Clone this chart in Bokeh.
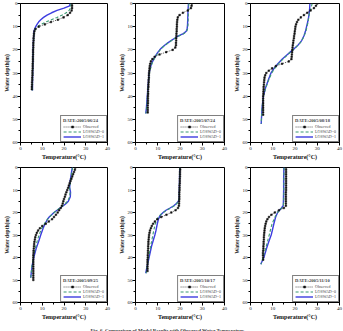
from bokeh.plotting import figure
from bokeh.layouts import column, row
from bokeh.models import Range1d, Legend, LegendItem, FixedTicker
from bokeh.embed import file_html
from bokeh.resources import INLINE
from bokeh.core.properties import value

FONT = "Liberation Serif"
OBS_COLOR = "#111111"
LOS0_COLOR = "#3a9a72"
LOS1_COLOR = "#3d3de0"

series_names = ["Observed", "LOSWAD=0", "LOSWAD=1"]
temp_ticks = [0, 10, 20, 30, 40]
temp_minor = [5, 15, 25, 35]
depth_ticks = [0, 10, 20, 30, 40, 50, 60]
depth_minor = [5, 15, 25, 35, 45, 55]

# ---- 2005/06/24 ----
date_0624 = "DATE:2005/06/24"
obs_depth_0624 = [0, 1, 2, 3, 4, 5, 6, 7, 8, 9, 10, 11, 12, 13, 14, 15, 16, 17, 18,
                  19, 20, 21, 22, 23, 24, 25, 26, 27, 28, 29, 30, 31, 32, 33, 34, 35, 36, 37]
obs_temp_0624 = [23.7, 23.7, 23.7, 23.5, 22.8, 21.7, 19.8, 17.2, 14.0, 11.2, 8.4, 6.9, 6.4,
                 6.2, 6.1, 6.0, 6.0, 5.9, 5.9, 5.9, 5.8, 5.8, 5.8, 5.7, 5.7, 5.7, 5.6, 5.6,
                 5.6, 5.5, 5.5, 5.5, 5.4, 5.4, 5.3, 5.3, 5.2, 5.2]
m0_depth_0624 = [0, 2, 3, 4, 5, 6, 7, 8, 9, 10, 11, 12, 15, 20, 25, 30, 35, 37.5]
m0_temp_0624 = [23.2, 23.0, 22.3, 21.0, 19.2, 16.8, 14.2, 11.6, 9.4, 7.8, 6.8, 6.4, 6.1,
                5.9, 5.7, 5.6, 5.5, 5.4]
m1_depth_0624 = [0, 1, 2, 3, 4, 5, 6, 7, 8, 9, 10, 11, 12, 15, 20, 25, 30, 35, 37.5]
m1_temp_0624 = [22.8, 22.6, 20.0, 16.8, 14.3, 12.2, 10.6, 9.3, 8.3, 7.6, 7.0, 6.5, 6.2,
                6.0, 5.8, 5.7, 5.6, 5.5, 5.5]

# ---- 2005/07/24 ----
date_0724 = "DATE:2005/07/24"
obs_depth_0724 = [0, 1, 2, 3, 4, 5, 6, 7, 8, 9, 10, 11, 12, 13, 14, 15, 16, 17, 18, 19,
                  20, 21, 22, 23, 24, 25, 26, 27, 28, 29, 30, 31, 32, 33, 34, 35, 36, 37,
                  38, 39, 40, 41, 42, 43, 44, 45, 46, 47]
obs_temp_0724 = [25.3, 25.2, 24.9, 23.5, 21.3, 19.8, 19.0, 18.8, 18.7, 18.6, 18.6, 18.5,
                 18.5, 18.4, 18.4, 18.3, 18.3, 18.2, 18.2, 17.9, 16.7, 13.8, 10.8, 8.6,
                 7.6, 6.9, 6.6, 6.4, 6.3, 6.2, 6.1, 6.0, 6.0, 5.9, 5.9, 5.8, 5.8, 5.7,
                 5.7, 5.7, 5.6, 5.6, 5.6, 5.6, 5.5, 5.5, 5.5, 5.5]
m0_depth_0724 = [0, 3, 6, 9, 11, 12, 13, 14, 15, 16, 17, 18, 19, 20, 21, 22, 24, 26, 28,
                 30, 35, 40, 45, 47.5]
m0_temp_0724 = [24.0, 23.8, 23.7, 23.6, 23.4, 23.0, 21.8, 19.6, 17.8, 16.2, 14.7, 13.3,
                12.1, 11.1, 10.3, 9.6, 8.4, 7.4, 6.8, 6.3, 5.8, 5.4, 5.0, 4.7]
m1_depth_0724 = [0, 3, 6, 9, 11, 12, 13, 14, 15, 16, 17, 18, 19, 20, 21, 22, 24, 26, 28,
                 30, 35, 40, 45, 47.5]
m1_temp_0724 = [23.8, 23.6, 23.5, 23.4, 23.2, 22.8, 21.5, 19.3, 17.6, 16.0, 14.5, 13.1,
                11.9, 10.9, 10.1, 9.4, 8.2, 7.2, 6.6, 6.1, 5.7, 5.3, 4.9, 4.6]

# ---- 2005/08/18 ----
date_0818 = "DATE:2005/08/18"
obs_depth_0818 = [0, 1, 2, 3, 4, 5, 6, 7, 8, 9, 10, 11, 12, 13, 14, 15, 16, 17, 18, 19,
                  20, 21, 22, 23, 24, 25, 26, 27, 28, 29, 30, 31, 32, 33, 34, 35, 36, 37,
                  38, 39, 40, 41, 42, 43, 44, 45, 46, 47, 48]
obs_temp_0818 = [30.0, 29.4, 28.5, 27.0, 25.5, 24.0, 22.6, 21.5, 20.9, 20.5, 20.2, 20.1,
                 19.9, 19.8, 19.6, 19.5, 19.3, 19.2, 19.0, 18.9, 18.8, 18.7, 18.6, 18.5,
                 18.4, 17.2, 14.2, 11.4, 9.7, 8.2, 7.1, 6.6, 6.3, 6.2, 6.1, 6.0, 5.9, 5.9,
                 5.8, 5.8, 5.7, 5.7, 5.7, 5.7, 5.7, 5.7, 5.7, 5.7, 5.7]
m0_depth_0818 = [0, 2, 4, 6, 8, 10, 12, 14, 16, 17, 18, 19, 20, 21, 22, 24, 26, 28, 30,
                 33, 36, 40, 45, 52]
m0_temp_0818 = [27.7, 27.2, 26.5, 26.2, 25.9, 25.4, 24.9, 24.1, 23.1, 22.3, 21.3, 20.3,
                19.2, 18.0, 16.8, 14.6, 12.6, 10.9, 9.5, 8.2, 7.0, 5.8, 5.2, 4.8]
m1_depth_0818 = [0, 2, 4, 6, 8, 10, 12, 14, 16, 17, 18, 19, 20, 21, 22, 24, 26, 28, 30,
                 33, 36, 40, 45, 52]
m1_temp_0818 = [26.7, 26.6, 26.4, 26.1, 25.7, 25.2, 24.7, 24.0, 23.0, 22.2, 21.3, 20.2,
                19.1, 17.8, 16.6, 14.3, 12.3, 10.6, 9.2, 8.0, 6.9, 5.8, 5.2, 4.8]

# ---- 2005/09/25 ----
date_0925 = "DATE:2005/09/25"
obs_depth_0925 = [0, 1, 2, 3, 4, 5, 6, 7, 8, 9, 10, 11, 12, 13, 14, 15, 16, 17, 18, 19,
                  20, 21, 22, 23, 24, 25, 26, 27, 28, 29, 30, 31, 32, 33, 34, 35, 36, 37,
                  38, 39, 40, 41, 42, 43, 44, 45, 46, 47, 48, 49, 50]
obs_temp_0925 = [25.2, 25.0, 24.6, 24.2, 23.8, 23.4, 23.0, 22.6, 22.2, 21.9, 21.5, 21.1,
                 20.7, 20.4, 20.0, 19.7, 19.4, 19.0, 18.5, 17.8, 17.1, 16.3, 15.4, 14.5,
                 13.0, 11.6, 10.0, 8.9, 8.1, 7.5, 7.1, 6.8, 6.6, 6.4, 6.3, 6.2, 6.1, 6.0,
                 6.0, 5.9, 5.9, 5.9, 5.9, 5.9, 5.9, 5.9, 5.9, 5.9, 5.9, 5.9, 5.9]
m0_depth_0925 = [0, 3, 6, 9, 11, 13, 15, 16, 17, 18, 19, 20, 21, 22, 23, 25, 27, 30, 33,
                 36, 40, 44, 49]
m0_temp_0925 = [24.0, 23.5, 23.0, 22.6, 22.8, 22.6, 21.6, 20.6, 19.4, 18.0, 16.8, 15.5,
                14.4, 13.3, 12.4, 11.0, 9.8, 8.5, 7.6, 6.8, 5.9, 5.2, 4.7]
m1_depth_0925 = [0, 3, 6, 9, 11, 13, 15, 16, 17, 18, 19, 20, 21, 22, 23, 25, 27, 30, 33,
                 36, 40, 44, 49]
m1_temp_0925 = [23.8, 23.3, 22.8, 22.6, 23.0, 22.9, 22.0, 21.0, 19.7, 18.2, 16.8, 15.4,
                14.3, 13.2, 12.4, 11.3, 10.4, 9.3, 8.3, 7.2, 6.1, 5.3, 4.7]

# ---- 2005/10/17 ----
date_1017 = "DATE:2005/10/17"
obs_depth_1017 = [0, 1, 2, 3, 4, 5, 6, 7, 8, 9, 10, 11, 12, 13, 14, 15, 16, 17, 18, 19,
                  20, 21, 22, 23, 24, 25, 26, 27, 28, 29, 30, 31, 32, 33, 34, 35, 36, 37,
                  38, 39, 40, 41, 42, 43, 44, 45, 46]
obs_temp_1017 = [20.1, 20.1, 20.0, 20.0, 20.0, 19.9, 19.9, 19.9, 19.8, 19.8, 19.8, 19.7,
                 19.7, 19.7, 19.7, 19.6, 19.6, 19.5, 19.1, 18.0, 16.1, 13.9, 11.6, 9.8,
                 8.7, 7.9, 7.3, 6.9, 6.5, 6.3, 6.1, 6.0, 5.9, 5.8, 5.8, 5.7, 5.7, 5.6,
                 5.6, 5.5, 5.5, 5.4, 5.4, 5.4, 5.4, 5.4, 5.4]
m0_depth_1017 = [0, 5, 10, 14, 15, 16, 17, 18, 19, 20, 21, 22, 23, 25, 28, 30, 35, 40,
                 44, 47]
m0_temp_1017 = [19.9, 19.8, 19.7, 19.6, 19.3, 18.6, 17.5, 15.9, 14.0, 12.5, 11.2, 10.3,
                9.6, 8.9, 8.2, 7.8, 6.8, 5.9, 5.2, 4.8]
m1_depth_1017 = [0, 5, 10, 14, 15, 16, 17, 18, 19, 20, 21, 22, 23, 25, 28, 30, 35, 40,
                 44, 47]
m1_temp_1017 = [19.9, 19.8, 19.7, 19.6, 19.3, 18.4, 17.2, 15.5, 13.7, 12.4, 11.4, 10.7,
                10.3, 9.8, 9.2, 8.7, 7.2, 6.1, 5.2, 4.6]

# ---- 2005/11/10 ----
date_1110 = "DATE:2005/11/10"
obs_depth_1110 = [0, 1, 2, 3, 4, 5, 6, 7, 8, 9, 10, 11, 12, 13, 14, 15, 16, 17, 18, 19,
                  20, 21, 22, 23, 24, 25, 26, 27, 28, 29, 30, 31, 32, 33, 34, 35, 36, 37,
                  38, 39, 40, 41]
obs_temp_1110 = [16.0, 16.0, 16.0, 16.0, 16.0, 16.0, 16.0, 16.0, 16.0, 16.0, 16.0, 15.9,
                 15.9, 15.9, 15.9, 15.9, 15.9, 15.9, 15.0, 12.8, 10.9, 9.4, 8.3, 7.6, 7.1,
                 6.8, 6.6, 6.4, 6.3, 6.2, 6.1, 6.0, 6.0, 5.9, 5.9, 5.8, 5.8, 5.7, 5.6,
                 5.6, 5.7, 5.7]
m0_depth_1110 = [0, 5, 10, 15, 17, 18, 19, 20, 22, 25, 28, 30, 33, 36, 40, 43]
m0_temp_1110 = [15.1, 15.0, 15.0, 14.9, 14.8, 14.0, 13.1, 12.2, 11.0, 9.7, 8.9, 8.4, 7.6,
                6.8, 5.6, 4.8]
m1_depth_1110 = [0, 5, 10, 15, 17, 18, 19, 20, 22, 25, 28, 30, 33, 36, 40, 43]
m1_temp_1110 = [15.0, 14.9, 14.9, 14.8, 14.7, 13.9, 13.0, 12.2, 11.3, 10.5, 9.8, 9.3, 8.2,
                7.2, 6.0, 4.6]

caption = "Fig. 6. Comparison of Model Results with Observed Water Temperature"


def panel(date, obs, m0, m1, width, height, left, right, top, bottom):
    p = figure(width=width, height=height,
               min_border_left=left, min_border_right=right,
               min_border_top=top, min_border_bottom=bottom,
               x_range=Range1d(0, 40), y_range=Range1d(60, 0),
               output_backend="svg", toolbar_location=None)
    p.grid.visible = False
    p.outline_line_color = "black"
    p.outline_line_width = 1
    p.background_fill_color = "white"
    p.border_fill_color = "white"

    for ax, ticks, minor in ((p.xaxis[0], temp_ticks, temp_minor),
                             (p.yaxis[0], depth_ticks, depth_minor)):
        ax.ticker = FixedTicker(ticks=ticks, minor_ticks=minor)
        ax.major_tick_out = 3
        ax.major_tick_in = 0
        ax.minor_tick_out = 2
        ax.minor_tick_in = 0
        ax.axis_line_color = "black"
        ax.major_tick_line_color = "black"
        ax.minor_tick_line_color = "black"
        ax.major_label_text_font = FONT
        ax.major_label_text_font_size = "5px"
        ax.major_label_text_color = "#222222"
        ax.axis_label_text_font = FONT
        ax.axis_label_text_font_style = "bold"
        ax.axis_label_text_color = "#111111"
    p.xaxis.major_label_standoff = 1
    p.xaxis.axis_label_standoff = 1
    p.xaxis.axis_label_text_font_size = "6px"
    p.yaxis.major_label_standoff = 0
    p.yaxis.axis_label_standoff = 0
    p.yaxis.axis_label_text_font_size = "5.5px"
    p.xaxis.axis_label = "Temperature(\u00b0C)"
    p.yaxis.axis_label = "Water depth(m)"

    r1 = p.line(m1[1], m1[0], line_color=LOS1_COLOR, line_width=1.4)
    r0 = p.line(m0[1], m0[0], line_color=LOS0_COLOR, line_width=1.1, line_dash="3 2")
    ro_l = p.line(obs[1], obs[0], line_color=OBS_COLOR, line_width=0.7, line_dash="1 1")
    ro_m = p.scatter(obs[1], obs[0], marker="square", size=1.6,
                     fill_color=OBS_COLOR, line_color=OBS_COLOR, line_width=0.5)

    legend = Legend(items=[LegendItem(label=series_names[0], renderers=[ro_l, ro_m]),
                           LegendItem(label=series_names[1], renderers=[r0]),
                           LegendItem(label=series_names[2], renderers=[r1])],
                    location="bottom_right", title=date)
    legend.title_text_font = FONT
    legend.title_text_font_size = "4.6px"
    legend.title_text_font_style = "bold"
    legend.title_standoff = 1
    legend.label_text_font = FONT
    legend.label_text_font_size = "4px"
    legend.label_height = 5
    legend.label_standoff = 2
    legend.glyph_width = 18
    legend.glyph_height = 5
    legend.spacing = 0
    legend.padding = 2
    legend.margin = 0
    legend.border_line_color = "black"
    legend.border_line_width = 1
    legend.background_fill_alpha = 1
    p.add_layout(legend)
    return p


f1 = panel(date_0624, (obs_depth_0624, obs_temp_0624), (m0_depth_0624, m0_temp_0624),
           (m1_depth_0624, m1_temp_0624), 115, 165, 18, 8, 3, 23)
f2 = panel(date_0724, (obs_depth_0724, obs_temp_0724), (m0_depth_0724, m0_temp_0724),
           (m1_depth_0724, m1_temp_0724), 114, 165, 19, 5, 3, 23)
f3 = panel(date_0818, (obs_depth_0818, obs_temp_0818), (m0_depth_0818, m0_temp_0818),
           (m1_depth_0818, m1_temp_0818), 114, 165, 21, 4, 3, 23)
f4 = panel(date_0925, (obs_depth_0925, obs_temp_0925), (m0_depth_0925, m0_temp_0925),
           (m1_depth_0925, m1_temp_0925), 115, 157, 18, 8, 2, 16)
f5 = panel(date_1017, (obs_depth_1017, obs_temp_1017), (m0_depth_1017, m0_temp_1017),
           (m1_depth_1017, m1_temp_1017), 114, 157, 19, 5, 2, 16)
f6 = panel(date_1110, (obs_depth_1110, obs_temp_1110), (m0_depth_1110, m0_temp_1110),
           (m1_depth_1110, m1_temp_1110), 114, 157, 21, 4, 2, 16)

# caption strip under the panels
cap = figure(width=343, height=9, min_border=0, x_range=Range1d(0, 343),
             y_range=Range1d(0, 9), x_axis_type=None, y_axis_type=None,
             output_backend="svg", toolbar_location=None)
cap.grid.visible = False
cap.outline_line_color = None
cap.text(x=[167], y=[4.5], text=[caption], text_font=value(FONT),
         text_font_size="5px", text_align="center", text_baseline="middle",
         text_color="#333333", text_font_style="bold")

layout = column(row(f1, f2, f3), row(f4, f5, f6), cap)

with open("out.html", "w") as fh:
    fh.write(file_html(layout, INLINE))
